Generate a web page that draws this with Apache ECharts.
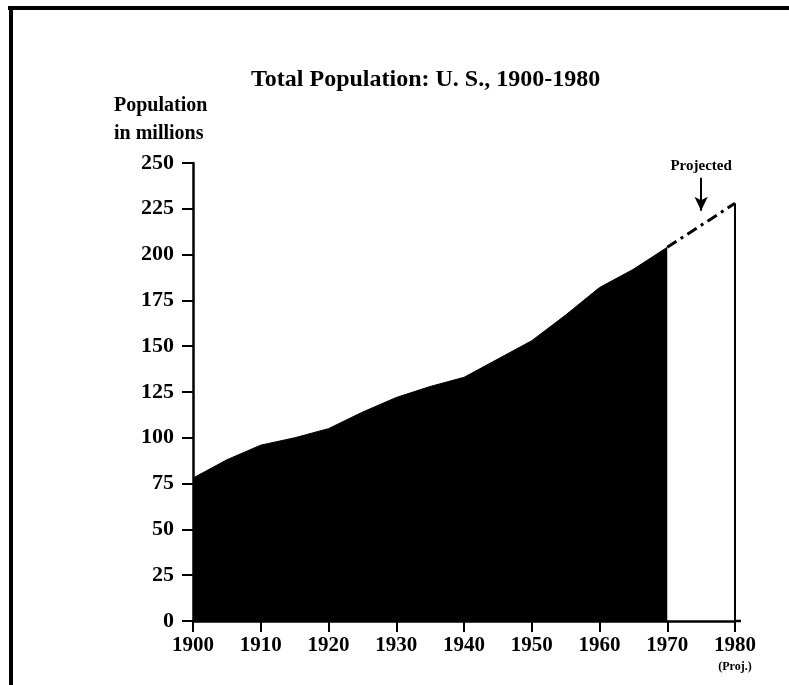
<!DOCTYPE html>
<html>
<head>
<meta charset="utf-8">
<script src="https://cdn.jsdelivr.net/npm/echarts@6/dist/echarts.min.js"></script>
<style>
  html, body { margin: 0; padding: 0; background: #fff; }
  #main { width: 789px; height: 685px; }
</style>
</head>
<body>
<div id="main"></div>
<script>
var years = [1900, 1905, 1910, 1915, 1920, 1925, 1930, 1935, 1940, 1945, 1950, 1955, 1960, 1965, 1970];
var population = [78, 88, 96, 100, 105, 114, 122, 128, 133, 143, 153, 167, 182, 192, 204];

// projection 1970 -> 1980
var projYears = [1970, 1980];
var projValues = [204, 228];

var xTicks = [1900, 1910, 1920, 1930, 1940, 1950, 1960, 1970, 1980];
var yTicks = [0, 25, 50, 75, 100, 125, 150, 175, 200, 225, 250];

var FONT = 'Liberation Serif';

var myChart = echarts.init(document.getElementById('main'));

var areaData = years.map(function (y, i) { return [y, population[i]]; });
var projData = projYears.map(function (y, i) { return [y, projValues[i]]; });
var lastYear = projYears[projYears.length - 1];
var lastValue = projValues[projValues.length - 1];

var option = {
    backgroundColor: '#fff',
    animation: false,
    title: {
        text: 'Total Population: U. S., 1900-1980',
        left: 246,
        top: 63,
        textStyle: { fontFamily: FONT, fontWeight: 'bold', fontSize: 24, color: '#000' }
    },
    grid: { left: 193, right: 54, top: 163, bottom: 64 },
    xAxis: {
        type: 'value',
        min: xTicks[0],
        max: xTicks[xTicks.length - 1],
        interval: 10,
        axisLine: { onZero: false, lineStyle: { color: '#000', width: 2.5 } },
        axisTick: { length: 11, lineStyle: { color: '#000', width: 2 } },
        splitLine: { show: false },
        axisLabel: {
            margin: 14,
            color: '#000',
            fontFamily: FONT,
            fontWeight: 'bold',
            fontSize: 21,
            lineHeight: 21,
            formatter: function (v) {
                if (v === lastYear) return v + '\n{p|(Proj.)}';
                return String(v);
            },
            rich: {
                p: { fontFamily: FONT, fontWeight: 'bold', fontSize: 12, color: '#000', lineHeight: 22 }
            }
        }
    },
    yAxis: {
        type: 'value',
        min: yTicks[0],
        max: yTicks[yTicks.length - 1],
        interval: 25,
        axisLine: { show: true, lineStyle: { color: '#000', width: 2.5 } },
        axisTick: { show: true, length: 11, lineStyle: { color: '#000', width: 2 } },
        splitLine: { show: false },
        axisLabel: {
            margin: 19,
            color: '#000',
            fontFamily: FONT,
            fontWeight: 'bold',
            fontSize: 22
        }
    },
    graphic: [
        // frame
        { type: 'line', shape: { x1: 8, y1: 8, x2: 789, y2: 8 }, style: { stroke: '#000', lineWidth: 4 } },
        { type: 'line', shape: { x1: 11, y1: 7, x2: 11, y2: 685 }, style: { stroke: '#000', lineWidth: 4 } },
        // x axis runs a little past 1980
        { type: 'line', shape: { x1: 735, y1: 621, x2: 741, y2: 621 }, style: { stroke: '#000', lineWidth: 2.5 } },
        {
            type: 'text',
            left: 114,
            top: 92,
            style: {
                text: 'Population\nin millions',
                font: 'bold 20px "Liberation Serif"',
                lineHeight: 28,
                fill: '#000'
            }
        }
    ],
    series: [
        {
            name: 'Population',
            type: 'line',
            data: areaData,
            symbol: 'none',
            lineStyle: { color: '#000', width: 1 },
            areaStyle: { color: '#000', opacity: 1 },
            z: 2
        },
        {
            name: 'Projected',
            type: 'line',
            data: projData,
            symbol: 'none',
            lineStyle: { color: '#000', width: 3, type: [11, 5, 3, 5] },
            markLine: {
                silent: true,
                symbol: ['none', 'arrow'],
                symbolSize: [10, 14],
                lineStyle: { color: '#000', width: 2, type: 'solid' },
                label: {
                    show: true,
                    position: 'start',
                    distance: 4,
                    formatter: 'Projected',
                    color: '#000',
                    fontFamily: FONT,
                    fontWeight: 'bold',
                    fontSize: 15
                },
                data: [
                    [{ coord: [1975, 242] }, { coord: [1975, 224] }]
                ]
            },
            z: 3
        },
        {
            name: '1980 edge',
            type: 'line',
            data: [[lastYear, 0], [lastYear, lastValue]],
            symbol: 'none',
            lineStyle: { color: '#000', width: 2 },
            z: 3
        }
    ]
};

option && myChart.setOption(option);
</script>
</body>
</html>
